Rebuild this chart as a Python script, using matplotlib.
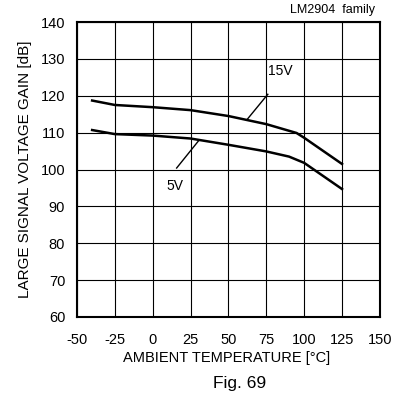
import matplotlib
matplotlib.use("Agg")
import matplotlib.pyplot as plt

plt.rcParams["font.family"] = ["Liberation Sans", "DejaVu Sans"]
plt.rcParams["axes.unicode_minus"] = False

temp = [-40, -25, 0, 25, 50, 75, 95, 100, 125]
gain_15v = [118.7, 117.5, 116.9, 116.1, 114.5, 112.3, 109.9, 108.6, 101.5]
temp_5v = [-40, -25, 0, 25, 50, 75, 90, 100, 125]
gain_5v = [110.7, 109.6, 109.2, 108.4, 106.7, 104.9, 103.5, 101.8, 94.7]

xticks = [-50, -25, 0, 25, 50, 75, 100, 125, 150]
yticks = [60, 70, 80, 90, 100, 110, 120, 130, 140]

fig = plt.figure(figsize=(4.02, 4.00), dpi=100)
ax = fig.add_axes([0.1915, 0.2075, 0.7535, 0.7375])

ax.plot(temp, gain_15v, color="black", linewidth=1.8)
ax.plot(temp_5v, gain_5v, color="black", linewidth=1.8)

# leader lines + labels
ax.plot([76, 62], [120.4, 113.4], color="black", linewidth=1.0)
ax.text(84, 126.7, "15V", fontsize=10, ha="center", va="center")
ax.plot([15.8, 30.7], [100.4, 108], color="black", linewidth=1.0)
ax.text(14.7, 95.6, "5V", fontsize=10, ha="center", va="center")

ax.set_xlim(-50, 150)
ax.set_ylim(60, 140)
ax.set_xticks(xticks)
ax.set_yticks(yticks)
ax.tick_params(length=0, labelsize=10.5)
ax.tick_params(axis="x", pad=11.5)
ax.tick_params(axis="y", pad=8.5)
ax.grid(True, color="black", linewidth=0.8)
for s in ax.spines.values():
    s.set_linewidth(1.5)

ax.set_xlabel("AMBIENT TEMPERATURE [°C]", fontsize=10.5)
ax.set_ylabel("LARGE SIGNAL VOLTAGE GAIN [dB]", fontsize=11)
ax.xaxis.set_label_coords(0.495, -0.139)
ax.yaxis.set_label_coords(-0.172, 0.5)
ax.xaxis.label.set_va("center")
ax.yaxis.label.set_va("center")

fig.text(0.828, 0.975, "LM2904  family", fontsize=9, ha="center", va="center")
fig.text(0.595, 0.042, "Fig. 69", fontsize=12.5, ha="center", va="center")

fig.savefig("out.png", dpi=100)
